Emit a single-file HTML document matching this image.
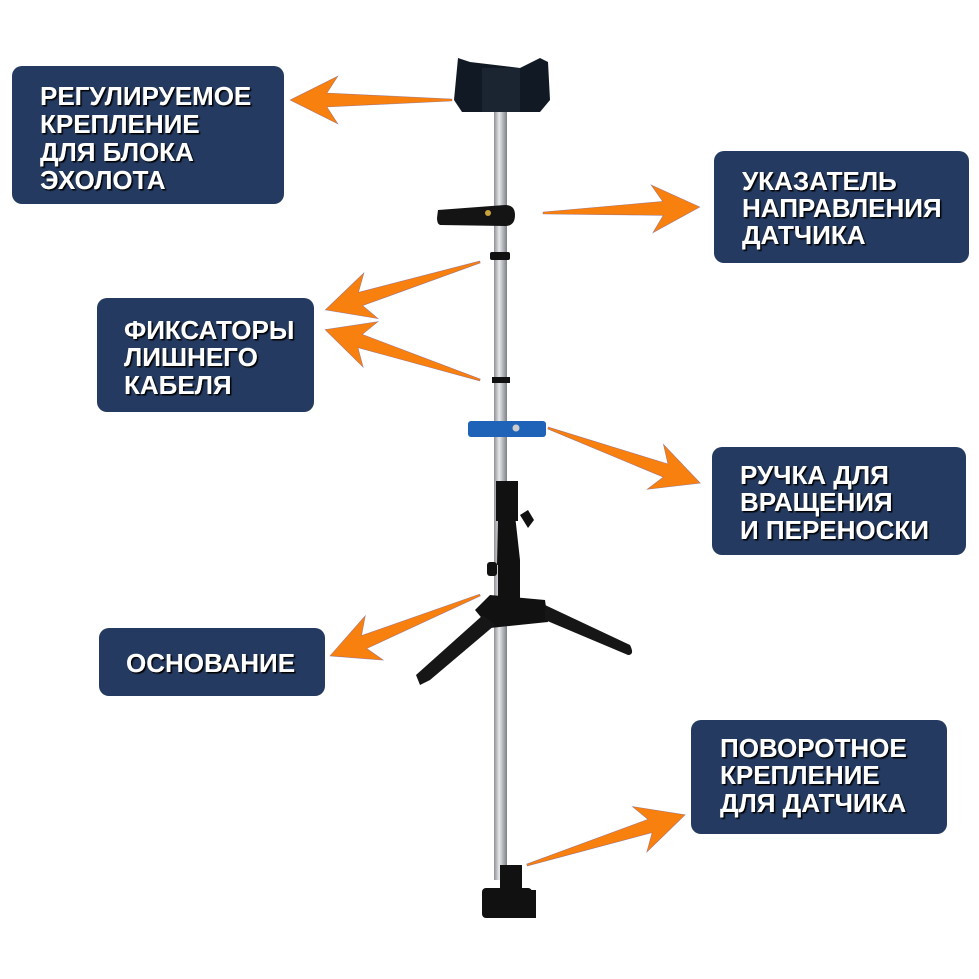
<!DOCTYPE html>
<html><head><meta charset="utf-8"><style>
html,body{margin:0;padding:0;background:#fff;}
svg{display:block}
text{font-family:"Liberation Sans",sans-serif;font-weight:bold;font-size:26px;fill:#fff;}
</style></head><body>
<svg width="979" height="979" viewBox="0 0 979 979" xmlns="http://www.w3.org/2000/svg">
<defs>
<linearGradient id="pole" x1="0" x2="1"><stop offset="0" stop-color="#8d9096"/><stop offset="0.4" stop-color="#e6e8ea"/><stop offset="1" stop-color="#7c7f85"/></linearGradient>
<filter id="sh"><feDropShadow dx="1.5" dy="1.5" stdDeviation="0.6" flood-color="#000"/></filter>
</defs>
<g fill="#243a60">
<rect x="12" y="66" width="272" height="138" rx="10"/>
<rect x="714" y="151" width="255" height="112" rx="10"/>
<rect x="97" y="298" width="217" height="114" rx="10"/>
<rect x="712" y="447" width="254" height="108" rx="10"/>
<rect x="99" y="628" width="226" height="68" rx="10"/>
<rect x="691" y="720" width="256" height="114" rx="10"/>
</g>
<g filter="url(#sh)">
<text x="40" y="105">РЕГУЛИРУЕМОЕ</text><text x="40" y="133">КРЕПЛЕНИЕ</text><text x="40" y="161">ДЛЯ БЛОКА</text><text x="40" y="189">ЭХОЛОТА</text>
<text x="742" y="190">УКАЗАТЕЛЬ</text><text x="742" y="217">НАПРАВЛЕНИЯ</text><text x="742" y="244">ДАТЧИКА</text>
<text x="124" y="339">ФИКСАТОРЫ</text><text x="124" y="366">ЛИШНЕГО</text><text x="124" y="394">КАБЕЛЯ</text>
<text x="740" y="484">РУЧКА ДЛЯ</text><text x="740" y="511">ВРАЩЕНИЯ</text><text x="740" y="539">И ПЕРЕНОСКИ</text>
<text x="126" y="672">ОСНОВАНИЕ</text>
<text x="720" y="757">ПОВОРОТНОЕ</text><text x="720" y="784">КРЕПЛЕНИЕ</text><text x="720" y="812">ДЛЯ ДАТЧИКА</text>
</g>
<rect x="494" y="110" width="13" height="770" fill="url(#pole)"/>
<path d="M458 58 L470 62 L520 68 L540 58 L548 62 L550 100 L540 112 L462 112 L454 100 Z" fill="#111a24"/>
<rect x="482" y="68" width="38" height="44" fill="#1b2532"/>
<path d="M438 210 L505 205 Q515 205 515 215 Q515 226 505 226 L440 225 Q437 224 437 218 Z" fill="#141414"/>
<circle cx="488" cy="213" r="3" fill="#c9a43a"/>
<rect x="490" y="252" width="20" height="8" rx="2" fill="#111"/>
<rect x="492" y="377" width="18" height="6" fill="#111"/>
<rect x="468" y="421" width="78" height="16" rx="3" fill="#1f63b8"/>
<circle cx="516" cy="428" r="3.5" fill="#ccc"/>
<rect x="496" y="481" width="22" height="40" fill="#111"/>
<path d="M498 520 L515 515 L520 560 L497 565 Z" fill="#111"/>
<path d="M520 515 l8 -5 l6 10 l-6 8 z" fill="#111"/>
<rect x="498" y="560" width="22" height="45" fill="#111"/>
<rect x="487" y="562" width="10" height="14" rx="3" fill="#111"/>
<path d="M475 610 L490 595 L545 600 L548 622 L490 628 Z" fill="#111"/>
<path d="M483 615 L495 625 L430 680 L420 685 L416 675 Z" fill="#161616"/>
<path d="M545 605 L630 645 Q635 655 628 655 L545 620 Z" fill="#161616"/>
<rect x="500" y="865" width="22" height="30" fill="#111"/>
<rect x="482" y="888" width="50" height="30" rx="4" fill="#111"/>
<rect x="528" y="890" width="8" height="28" fill="#111"/>
<g fill="#f7800f" stroke="#5a4aa0" stroke-width="0.6" stroke-opacity="0.5">
<polygon transform="translate(452,100) rotate(180)" points="0,-1 125,-7 114,-24 162,0 114,24 125,7 0,1"/>
<polygon transform="translate(543,213) rotate(-2.2)" points="0,-1 120,-7 109,-24 157,0 109,24 120,7 0,1"/>
<polygon transform="translate(480,262) rotate(162.8)" points="0,-1 125,-7 114,-24 162,0 114,24 125,7 0,1"/>
<polygon transform="translate(480,380) rotate(198)" points="0,-1 126,-7 115,-24 163,0 115,24 126,7 0,1"/>
<polygon transform="translate(548,428) rotate(19.9)" points="0,-1 125,-7 114,-24 162,0 114,24 125,7 0,1"/>
<polygon transform="translate(480,595) rotate(157.9)" points="0,-1 125,-7 114,-24 162,0 114,24 125,7 0,1"/>
<polygon transform="translate(527,865) rotate(-17.6)" points="0,-1 129,-7 118,-24 166,0 118,24 129,7 0,1"/>
</g>
</svg>
</body></html>
